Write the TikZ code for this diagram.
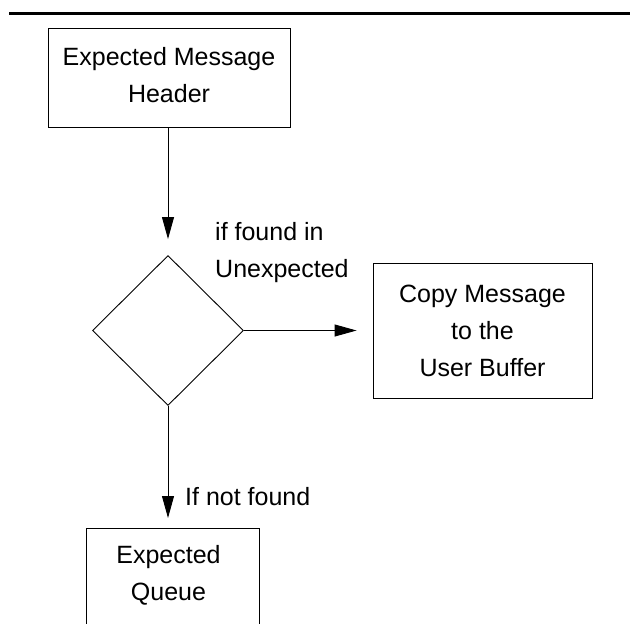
\documentclass[tikz,border=0pt]{standalone}
\usepackage{fontspec}
\setmainfont{Liberation Sans}
\usetikzlibrary{arrows.meta,shapes.geometric}

\tikzset{
  frame/.style={draw, line width=0.9pt},
  box/.style={frame, rectangle, inner sep=0pt, align=center},
  txt/.style={inner sep=0pt, align=center},
  lbl/.style={inner sep=0pt, align=left},
  arr/.style={line width=0.9pt, -{Triangle[length=22pt,width=12pt]}},
  decision/.style={frame, diamond, aspect=1, inner sep=0pt},
}

\begin{document}
\begin{tikzpicture}[x=1pt, y=-1pt, font=\fontsize{25}{37}\selectfont]
  \useasboundingbox (0,0) rectangle (630,624);
  \clip (0,0) rectangle (630,624);

  % heavy rule across the top
  \draw[line width=3.3pt] (9,13.5) -- (640,13.5);

  % flow boxes
  \node[box, minimum width=242pt, minimum height=99pt] (hdr) at (169,77.5)
    {Expected Message\\Header\vphantom{p}};
  \node[decision, minimum width=151pt, minimum height=150pt] (dia) at (168,330.5) {};
  \node[box, minimum width=219pt, minimum height=135pt] (copy) at (482.5,330.5)
    {Copy Message\\to the\\User Buffer};
  \node[box, minimum width=172.3pt, minimum height=130pt, anchor=north] (queue) at (172.8,527.7) {};
  \node[txt] (queuetext) at (168.5,575.5) {Expected\\Queue};

  % branch labels
  \node[lbl, anchor=north west] (found) at (215,221.7) {if found in\\Unexpected};
  \node[lbl, anchor=base west] (notfound) at (185,505) {If not found};

  % connectors
  \draw[arr, shorten >=16pt] (hdr.south -| dia.north) -- (dia.north);
  \draw[arr, shorten >=16pt] (dia.east) -- (copy.west);
  \draw[arr, shorten >=9.7pt] (dia.south) -- (dia.south |- queue.north);
\end{tikzpicture}
\end{document}
